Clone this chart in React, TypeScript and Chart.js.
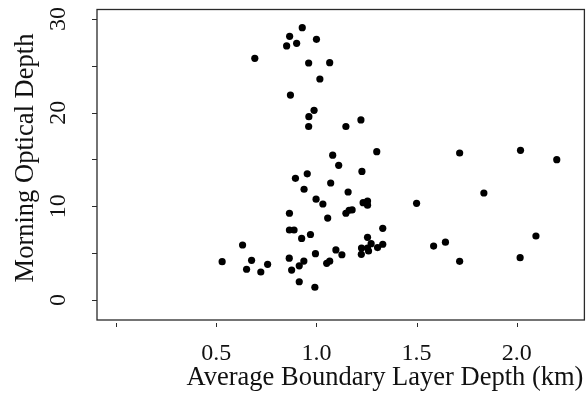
import React, { useEffect, useRef } from "react";
import { Chart, registerables } from "chart.js";

Chart.register(...registerables);

// Average boundary layer depth (km) and morning optical depth, one entry per day
const boundaryLayerDepthKm = [
  0.929, 0.866, 0.851, 0.901, 1.0, 0.692, 0.961, 1.066, 1.017, 0.87, 0.988, 0.962,
  0.961, 1.147, 1.222, 1.301, 1.715, 2.019, 2.2, 1.081, 1.111, 1.227, 0.954, 0.895,
  1.071, 0.938, 1.158, 1.836, 0.998, 1.032, 1.233, 1.255, 1.255, 1.5, 0.865, 1.056,
  1.147, 1.163, 1.178, 0.865, 0.888, 0.926, 0.97, 1.331, 1.255, 2.096, 0.631, 0.864,
  0.995, 1.097, 1.127, 1.225, 1.255, 1.273, 1.26, 1.224, 1.305, 1.331, 1.585, 1.644,
  0.529, 0.676, 0.651, 0.722, 0.756, 0.876, 0.914, 0.937, 1.051, 1.066, 1.715, 2.017,
  0.914, 0.992,
];
const morningOpticalDepth = [
  29.07, 28.15, 27.12, 27.4, 27.83, 25.8, 25.3, 25.33, 23.59, 21.88, 20.25, 19.57,
  18.52, 18.52, 19.22, 15.83, 15.69, 15.98, 14.98, 15.46, 14.38, 13.72, 13.47, 12.99,
  12.49, 11.82, 11.53, 11.42, 10.76, 10.25, 10.39, 10.57, 10.12, 10.32, 9.26, 8.75,
  9.26, 9.58, 9.61, 7.47, 7.47, 6.57, 6.99, 7.65, 6.69, 6.83, 5.87, 4.46,
  4.94, 5.34, 4.83, 5.55, 5.55, 6.01, 5.23, 4.88, 5.6, 5.95, 5.76, 6.17,
  4.09, 4.24, 3.28, 2.99, 3.81, 3.19, 3.65, 4.16, 3.92, 4.14, 4.13, 4.52,
  1.95, 1.36,
];

// Axis ticks: marks at every value, text only where a label is given
const xTickValues = [0.0, 0.5, 1.0, 1.5, 2.0];
const xTickLabels = ["", "0.5", "1.0", "1.5", "2.0"];
const yTickValues = [0, 5, 10, 15, 20, 25, 30];
const yTickLabels = ["0", "", "10", "", "20", "", "30"];

const xTitle = "Average Boundary Layer Depth (km)";
const yTitle = "Morning Optical Depth";

const SERIF = '"Liberation Serif", "Times New Roman", serif';

const axesPlugin = {
  id: "framedAxes",
  beforeDatasetsDraw(chart: any) {
    const { ctx, chartArea } = chart;
    const { left, right, top, bottom } = chartArea;
    const xs = chart.scales.x;
    const ys = chart.scales.y;
    ctx.save();
    ctx.strokeStyle = "#2a2a2a";
    ctx.lineWidth = 1.3;
    ctx.strokeRect(left, top, right - left, bottom - top);

    // tick marks
    ctx.lineWidth = 1;
    ctx.beginPath();
    xTickValues.forEach((v) => {
      const px = Math.round(xs.getPixelForValue(v)) + 0.5;
      ctx.moveTo(px, bottom + 3);
      ctx.lineTo(px, bottom + 7);
    });
    yTickValues.forEach((v) => {
      const py = Math.round(ys.getPixelForValue(v)) + 0.5;
      ctx.moveTo(left - 5, py);
      ctx.lineTo(left, py);
    });
    ctx.stroke();
    ctx.restore();
  },
  afterDraw(chart: any) {
    const { ctx, chartArea } = chart;
    const { left, bottom } = chartArea;
    const xs = chart.scales.x;
    const ys = chart.scales.y;
    ctx.save();
    ctx.fillStyle = "#111";

    // x tick labels
    ctx.font = `24px ${SERIF}`;
    ctx.textAlign = "center";
    ctx.textBaseline = "alphabetic";
    xTickValues.forEach((v, i) => {
      if (!xTickLabels[i]) return;
      ctx.fillText(xTickLabels[i], xs.getPixelForValue(v), bottom + 40);
    });

    // y tick labels, turned to run along the axis
    yTickValues.forEach((v, i) => {
      if (!yTickLabels[i]) return;
      ctx.save();
      ctx.translate(left - 32, ys.getPixelForValue(v));
      ctx.rotate(-Math.PI / 2);
      ctx.fillText(yTickLabels[i], 0, 0);
      ctx.restore();
    });

    // axis titles
    ctx.font = `26.5px ${SERIF}`;
    ctx.fillText(xTitle, 385, bottom + 65);

    ctx.save();
    ctx.translate(left - 64, 158);
    ctx.rotate(-Math.PI / 2);
    ctx.fillText(yTitle, 0, 0);
    ctx.restore();

    ctx.restore();
  },
};

export default function App() {
  const canvasRef = useRef<HTMLCanvasElement | null>(null);

  useEffect(() => {
    document.body.style.margin = "0";
    const canvas = canvasRef.current;
    if (!canvas) return;
    const points = boundaryLayerDepthKm.map((x, i) => ({ x, y: morningOpticalDepth[i] }));
    const chart = new Chart(canvas, {
      type: "scatter",
      data: {
        datasets: [
          {
            data: points,
            backgroundColor: "#000",
            borderColor: "#000",
            pointRadius: 3.6,
            pointBorderWidth: 0,
            pointHoverRadius: 3.6,
          },
        ],
      },
      options: {
        animation: false,
        responsive: true,
        maintainAspectRatio: false,
        events: [],
        layout: { padding: { left: 97, top: 9.5, right: 1, bottom: 76 } },
        plugins: { legend: { display: false }, tooltip: { enabled: false } },
        scales: {
          x: { type: "linear", min: -0.096, max: 2.338, display: false },
          y: { type: "linear", min: -2.135, max: 31.01, display: false },
        },
      },
      plugins: [axesPlugin],
    });
    return () => chart.destroy();
  }, []);

  return (
    <div style={{ position: "fixed", left: 0, top: 0, width: 588, height: 396, background: "#fff" }}>
      <canvas ref={canvasRef} />
    </div>
  );
}
